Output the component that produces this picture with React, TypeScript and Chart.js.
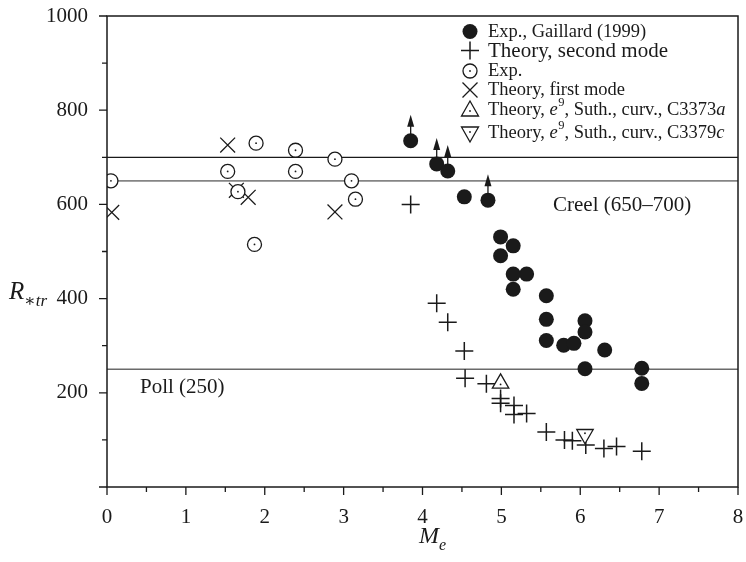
import React, { useEffect, useRef } from 'react';
import { Chart, registerables } from 'chart.js';
Chart.register(...registerables);

// ---- data ----
const xTickValues = [0, 1, 2, 3, 4, 5, 6, 7, 8];
const yTickValues = [200, 400, 600, 800, 1000];

const gaillardX = [3.85, 4.18, 4.32, 4.53, 4.83, 4.99, 5.15, 4.99, 5.15, 5.32, 5.15, 5.57, 5.57, 6.06, 6.06, 5.57, 5.79, 5.92, 6.31, 6.06, 6.78, 6.78];
const gaillardY = [735, 686, 671, 616, 609, 531, 512, 491, 452, 452, 420, 406, 356, 353, 329, 311, 301, 305, 291, 251, 252, 220];
const gaillardArrow = [true, true, true, false, true, false, false, false, false, false, false, false, false, false, false, false, false, false, false, false, false, false];

const secondModeX = [3.85, 4.18, 4.32, 4.53, 4.54, 4.81, 4.99, 4.99, 5.16, 5.16, 5.32, 5.57, 5.80, 5.90, 6.07, 6.30, 6.46, 6.78];
const secondModeY = [600, 390, 350, 289, 231, 219, 188, 178, 173, 154, 156, 117, 100, 98, 89, 82, 86, 76];

const expX = [0.05, 1.53, 1.89, 2.39, 2.89, 2.39, 3.10, 3.15, 1.66, 1.87];
const expY = [650, 670, 730, 715, 696, 670, 650, 611, 627, 515];

const firstModeX = [0.06, 1.53, 1.64, 1.79, 2.89];
const firstModeY = [583, 726, 630, 615, 584];

const c3373aX = [4.99];
const c3373aY = [220];
const c3379cX = [6.06];
const c3379cY = [112];

const creelLow = 650;
const creelHigh = 700;
const pollValue = 250;
const xRange = [0, 8];

const pts = (xs: number[], ys: number[]) => xs.map((x, i) => ({ x, y: ys[i] }));
const hline = (v: number) => xRange.map((x) => ({ x, y: v }));

const SERIF = '"Liberation Serif", "DejaVu Serif", serif';
const INK = '#1a1a1a';

function drawMarker(ctx: CanvasRenderingContext2D, kind: string, x: number, y: number) {
  ctx.save();
  ctx.strokeStyle = INK;
  ctx.fillStyle = INK;
  ctx.lineWidth = 1.3;
  ctx.beginPath();
  if (kind === 'filled') {
    ctx.arc(x, y, 7.5, 0, Math.PI * 2);
    ctx.fill();
  } else if (kind === 'plus') {
    ctx.lineWidth = 1.5;
    ctx.moveTo(x - 9, y); ctx.lineTo(x + 9, y);
    ctx.moveTo(x, y - 9); ctx.lineTo(x, y + 9);
    ctx.stroke();
  } else if (kind === 'open') {
    ctx.arc(x, y, 7, 0, Math.PI * 2);
    ctx.stroke();
    ctx.beginPath();
    ctx.arc(x, y, 0.9, 0, Math.PI * 2);
    ctx.fill();
  } else if (kind === 'x') {
    const d = 7.5;
    ctx.moveTo(x - d, y - d); ctx.lineTo(x + d, y + d);
    ctx.moveTo(x + d, y - d); ctx.lineTo(x - d, y + d);
    ctx.stroke();
  } else if (kind === 'up' || kind === 'down') {
    const s = kind === 'up' ? 1 : -1;
    ctx.moveTo(x, y - s * 9);
    ctx.lineTo(x + 8.5, y + s * 6);
    ctx.lineTo(x - 8.5, y + s * 6);
    ctx.closePath();
    ctx.stroke();
    ctx.beginPath();
    ctx.arc(x, y + s * 1, 0.9, 0, Math.PI * 2);
    ctx.fill();
  }
  ctx.restore();
}

const decorPlugin = {
  id: 'decor',
  afterDatasetsDraw(chart: any) {
    const ctx: CanvasRenderingContext2D = chart.ctx;
    chart.data.datasets.forEach((ds: any, di: number) => {
      if (!ds.centerDot) return;
      const meta = chart.getDatasetMeta(di);
      meta.data.forEach((el: any) => {
        ctx.save();
        ctx.fillStyle = INK;
        ctx.beginPath();
        ctx.arc(el.x, el.y + (ds.dotShift || 0), 0.9, 0, Math.PI * 2);
        ctx.fill();
        ctx.restore();
      });
    });
    const gi = chart.data.datasets.findIndex((d: any) => d.label === 'Exp., Gaillard (1999)');
    const gm = chart.getDatasetMeta(gi);
    gm.data.forEach((el: any, i: number) => {
      if (!gaillardArrow[i]) return;
      ctx.save();
      ctx.strokeStyle = INK;
      ctx.fillStyle = INK;
      ctx.lineWidth = 1.3;
      ctx.beginPath();
      ctx.moveTo(el.x, el.y - 6);
      ctx.lineTo(el.x, el.y - 15);
      ctx.stroke();
      ctx.beginPath();
      ctx.moveTo(el.x, el.y - 26);
      ctx.lineTo(el.x + 3.5, el.y - 14);
      ctx.lineTo(el.x - 3.5, el.y - 14);
      ctx.closePath();
      ctx.fill();
      ctx.restore();
    });
  },
  afterDraw(chart: any) {
    const ctx: CanvasRenderingContext2D = chart.ctx;
    const { left, right, top, bottom } = chart.chartArea;
    const xs = chart.scales.x;
    const ys = chart.scales.y;
    ctx.save();
    ctx.strokeStyle = INK;
    ctx.lineWidth = 1.5;
    ctx.strokeRect(left, top, right - left, bottom - top);
    ctx.lineWidth = 1.3;
    ctx.beginPath();
    for (let v = xRange[0]; v <= xRange[1] + 1e-9; v += 0.5) {
      const px = xs.getPixelForValue(v);
      const major = Math.abs(v - Math.round(v)) < 1e-6;
      ctx.moveTo(px, bottom);
      ctx.lineTo(px, bottom + (major ? 8 : 5));
    }
    for (let v = 0; v <= 1000; v += 100) {
      const py = ys.getPixelForValue(v);
      const major = v % 200 === 0;
      ctx.moveTo(left, py);
      ctx.lineTo(left - (major ? 8 : 5), py);
    }
    ctx.stroke();

    ctx.fillStyle = INK;
    ctx.textBaseline = 'alphabetic';
    ctx.font = `21px ${SERIF}`;
    ctx.textAlign = 'left';
    ctx.fillText('Creel (650\u2013700)', 553, 211);
    ctx.fillText('Poll (250)', 140, 393);

    ctx.font = `italic 25px ${SERIF}`;
    ctx.fillText('R', 9, 299);
    let w = ctx.measureText('R').width;
    ctx.font = `italic 17px ${SERIF}`;
    ctx.fillText('\u2217tr', 9 + w, 306);

    ctx.font = `italic 24px ${SERIF}`;
    ctx.fillText('M', 419, 543);
    w = ctx.measureText('M').width;
    ctx.font = `italic 16px ${SERIF}`;
    ctx.fillText('e', 419 + w, 550);

    const mx = 470;
    const tx = 488;
    const rows: [string, number][] = [
      ['filled', 31.5], ['plus', 50.5], ['open', 71], ['x', 90], ['up', 110], ['down', 133],
    ];
    rows.forEach(([k, y]) => drawMarker(ctx, k, mx, y));
    ctx.textBaseline = 'middle';
    ctx.font = `18.5px ${SERIF}`;
    ctx.fillText('Exp., Gaillard (1999)', tx, 32);
    ctx.font = `21px ${SERIF}`;
    ctx.fillText('Theory, second mode', tx, 51);
    ctx.font = `18.5px ${SERIF}`;
    ctx.fillText('Exp.', tx, 71);
    ctx.fillText('Theory, first mode', tx, 90);
    const eRow = (y: number, tail: string, it: string) => {
      let x = tx;
      ctx.font = `18.5px ${SERIF}`;
      ctx.fillText('Theory, ', x, y);
      x += ctx.measureText('Theory, ').width;
      ctx.font = `italic 18.5px ${SERIF}`;
      ctx.fillText('e', x, y);
      x += ctx.measureText('e').width;
      ctx.font = `12.5px ${SERIF}`;
      ctx.fillText('9', x + 0.5, y - 7);
      x += ctx.measureText('9').width + 0.5;
      ctx.font = `18.5px ${SERIF}`;
      ctx.fillText(tail, x, y);
      x += ctx.measureText(tail).width;
      ctx.font = `italic 18.5px ${SERIF}`;
      ctx.fillText(it, x, y);
    };
    eRow(110, ', Suth., curv., C3373', 'a');
    eRow(133, ', Suth., curv., C3379', 'c');
    ctx.restore();
  },
};

export default function App() {
  const ref = useRef<HTMLCanvasElement>(null);
  useEffect(() => {
    document.body.style.margin = '0';
    const canvas = ref.current!;
    const chart = new Chart(canvas, {
      type: 'scatter',
      data: {
        datasets: [
          {
            label: 'Exp., Gaillard (1999)', data: pts(gaillardX, gaillardY), order: 1,
            pointStyle: 'circle', pointRadius: 7.5, backgroundColor: INK, borderColor: INK, borderWidth: 0,
          },
          {
            label: 'Theory, second mode', data: pts(secondModeX, secondModeY), order: 2,
            pointStyle: 'cross', pointRadius: 9, borderColor: INK, borderWidth: 1.5,
          },
          {
            label: 'Exp.', data: pts(expX, expY), order: 3, centerDot: true,
            pointStyle: 'circle', pointRadius: 7, backgroundColor: '#ffffff', borderColor: INK, borderWidth: 1.3,
          },
          {
            label: 'Theory, first mode', data: pts(firstModeX, firstModeY), order: 4,
            pointStyle: 'crossRot', pointRadius: 10.5, borderColor: INK, borderWidth: 1.3,
          },
          {
            label: 'C3373a', data: pts(c3373aX, c3373aY), order: 0, centerDot: true, dotShift: 1,
            pointStyle: 'triangle', pointRadius: 9.5, backgroundColor: '#ffffff', borderColor: INK, borderWidth: 1.3,
          },
          {
            label: 'C3379c', data: pts(c3379cX, c3379cY), order: 0, centerDot: true, dotShift: -1,
            pointStyle: 'triangle', rotation: 180, pointRadius: 9.5, backgroundColor: '#ffffff', borderColor: INK, borderWidth: 1.3,
          },
          {
            label: 'creelHigh', data: hline(creelHigh), order: 10, showLine: true,
            borderColor: '#1a1a1a', borderWidth: 1.3, pointRadius: 0,
          },
          {
            label: 'creelLow', data: hline(creelLow), order: 10, showLine: true,
            borderColor: '#858585', borderWidth: 1.8, pointRadius: 0,
          },
          {
            label: 'poll', data: hline(pollValue), order: 10, showLine: true,
            borderColor: '#6a6a6a', borderWidth: 1.4, pointRadius: 0,
          },
        ] as any,
      },
      options: {
        responsive: false,
        animation: false,
        devicePixelRatio: 1,
        events: [],
        layout: { autoPadding: false, padding: { top: 16, right: 8, left: 0, bottom: 0 } },
        plugins: { legend: { display: false }, tooltip: { enabled: false } },
        scales: {
          x: {
            type: 'linear', min: xRange[0], max: xRange[1],
            afterFit: (s: any) => { s.height = 75; s.paddingLeft = 0; s.paddingRight = 0; },
            afterBuildTicks: (s: any) => { s.ticks = xTickValues.map((v) => ({ value: v })); },
            ticks: { color: INK, font: { family: SERIF, size: 21 }, padding: 10, maxRotation: 0 },
            grid: { drawOnChartArea: false, drawTicks: true, tickLength: 8, tickColor: 'rgba(0,0,0,0)' },
            border: { display: false },
          },
          y: {
            type: 'linear', min: 0, max: 1000,
            afterFit: (s: any) => { s.width = 107; s.paddingTop = 0; s.paddingBottom = 0; },
            afterBuildTicks: (s: any) => { s.ticks = yTickValues.map((v) => ({ value: v })); },
            ticks: { color: INK, font: { family: SERIF, size: 21 }, padding: 11, callback: (v: any) => String(v) },
            grid: { drawOnChartArea: false, drawTicks: true, tickLength: 8, tickColor: 'rgba(0,0,0,0)' },
            border: { display: false },
          },
        },
      } as any,
      plugins: [decorPlugin],
    });
    return () => chart.destroy();
  }, []);
  return <canvas ref={ref} width={746} height={562} style={{ display: 'block' }} />;
}
